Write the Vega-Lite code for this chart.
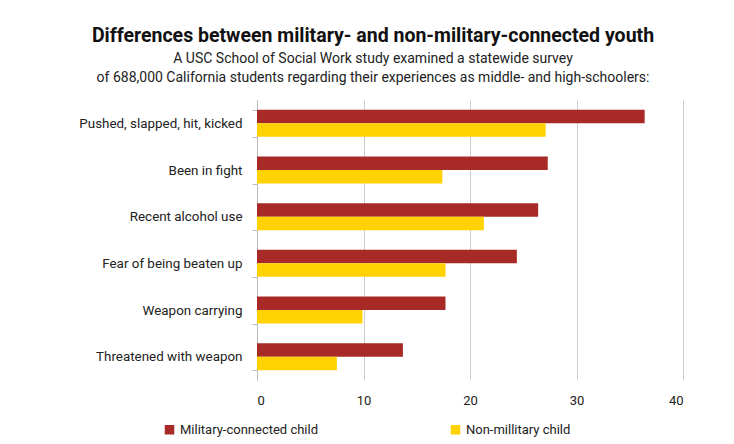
{
  "$schema": "https://vega.github.io/schema/vega-lite/v6.json",
  "autosize": "none",
  "width": 426,
  "height": 280,
  "padding": {"left": 257, "top": 100, "right": 51, "bottom": 64},
  "background": "white",
  "title": {
    "text": "Differences between military- and non-military-connected youth",
    "subtitle": ["A USC School of Social Work study examined a statewide survey", "of 688,000 California students regarding their experiences as middle- and high-schoolers:"],
    "anchor": "middle",
    "frame": "group",
    "dx": -97,
    "offset": 7,
    "font": "Roboto",
    "fontSize": 19.5,
    "fontWeight": "bold",
    "color": "#111111",
    "subtitleFont": "Roboto",
    "subtitleFontSize": 14,
    "subtitleColor": "#222222",
    "subtitleLineHeight": 19,
    "subtitlePadding": 6
  },
  "data": {
    "values": [
      {"category": "Pushed, slapped, hit, kicked", "group": "Military-connected child", "value": 36.4},
      {"category": "Pushed, slapped, hit, kicked", "group": "Non-millitary child", "value": 27.1},
      {"category": "Been in fight", "group": "Military-connected child", "value": 27.3},
      {"category": "Been in fight", "group": "Non-millitary child", "value": 17.4},
      {"category": "Recent alcohol use", "group": "Military-connected child", "value": 26.4},
      {"category": "Recent alcohol use", "group": "Non-millitary child", "value": 21.3},
      {"category": "Fear of being beaten up", "group": "Military-connected child", "value": 24.4},
      {"category": "Fear of being beaten up", "group": "Non-millitary child", "value": 17.7},
      {"category": "Weapon carrying", "group": "Military-connected child", "value": 17.7},
      {"category": "Weapon carrying", "group": "Non-millitary child", "value": 9.9},
      {"category": "Threatened with weapon", "group": "Military-connected child", "value": 13.7},
      {"category": "Threatened with weapon", "group": "Non-millitary child", "value": 7.5}
    ]
  },
  "mark": {"type": "bar"},
  "encoding": {
    "y": {
      "field": "category",
      "type": "nominal",
      "sort": null,
      "title": null,
      "scale": {"paddingInner": 0.42, "paddingOuter": 0.21},
      "axis": {
        "domain": true,
        "domainColor": "#bbbbbb",
        "ticks": true,
        "tickColor": "#bbbbbb",
        "tickSize": 5,
        "tickBand": "extent",
        "labelPadding": 10,
        "labelFont": "Roboto",
        "labelFontSize": 13.4,
        "labelColor": "#222222",
        "labelLimit": 300,
        "grid": false
      }
    },
    "yOffset": {
      "field": "group",
      "type": "nominal",
      "scale": {"domain": ["Military-connected child", "Non-millitary child"]}
    },
    "x": {
      "field": "value",
      "type": "quantitative",
      "title": null,
      "scale": {"domain": [0, 40]},
      "axis": {
        "values": [0, 10, 20, 30, 40],
        "domain": false,
        "ticks": false,
        "grid": true,
        "gridColor": "#cccccc",
        "gridWidth": 1,
        "labelPadding": 14,
        "labelFont": "Roboto",
        "labelFontSize": 13,
        "labelColor": "#222222"
      }
    },
    "color": {
      "field": "group",
      "type": "nominal",
      "scale": {"domain": ["Military-connected child", "Non-millitary child"], "range": ["#A82A26", "#FFD200"]},
      "legend": {
        "title": null,
        "orient": "none",
        "direction": "horizontal",
        "legendX": -94,
        "legendY": 323,
        "symbolType": "square",
        "symbolSize": 90,
        "symbolStrokeWidth": 0,
        "labelFont": "Roboto",
        "labelFontSize": 13,
        "labelColor": "#222222",
        "labelOffset": 4,
        "columnPadding": 130,
        "labelLimit": 300
      }
    }
  },
  "config": {
    "view": {"stroke": null}
  }
}
